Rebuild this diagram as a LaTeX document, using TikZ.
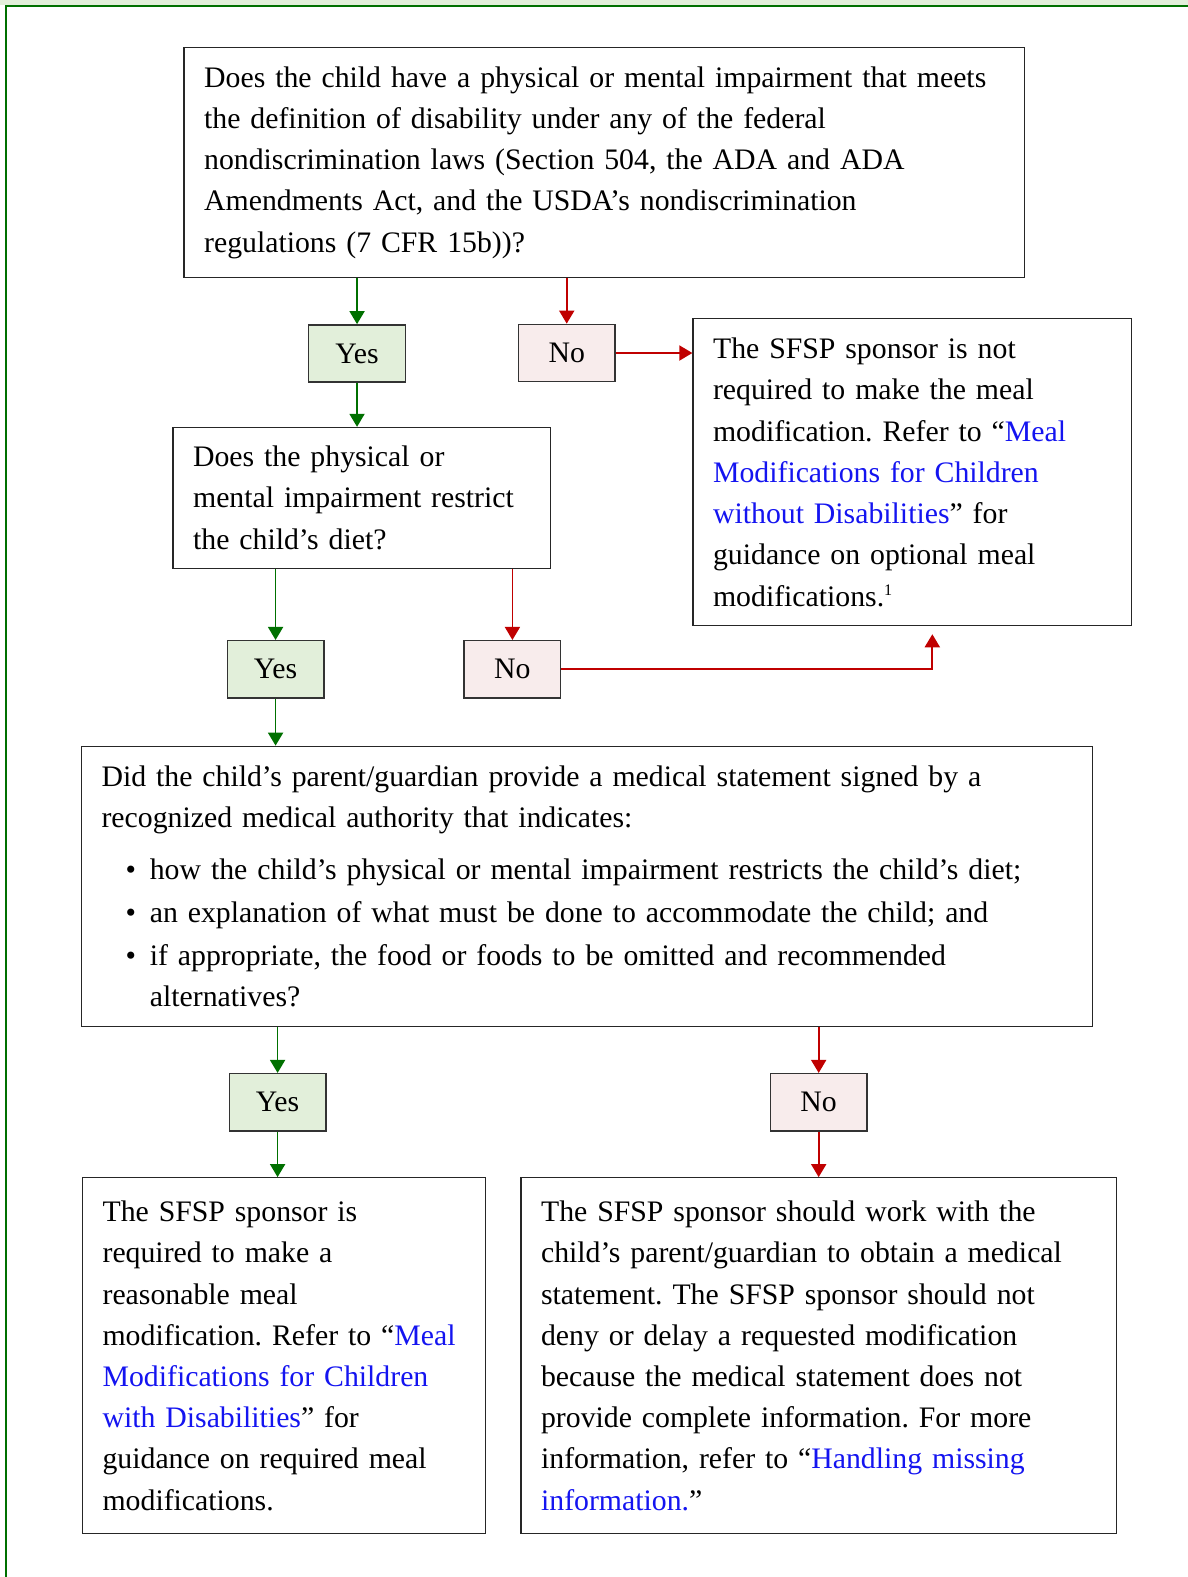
\documentclass[tikz,border=0pt]{standalone}
\usepackage{fontspec}
\setmainfont{Liberation Serif}
\usetikzlibrary{arrows.meta}
\frenchspacing

\definecolor{framegreen}{RGB}{0,112,0}
\definecolor{stripgreen}{RGB}{226,239,218}
\definecolor{yesfill}{RGB}{226,239,218}
\definecolor{nofill}{RGB}{248,236,236}
\definecolor{nored}{RGB}{192,0,0}
\definecolor{linkblue}{RGB}{20,20,240}

\newcommand{\lnk}[1]{\textcolor{linkblue}{#1}}
\newcommand{\blt}{\hspace*{12pt}\makebox[12pt][l]{\textbullet}}

\begin{document}
\begin{tikzpicture}[x=0.5pt, y=-0.5pt,
    box/.style={draw=black!85, line width=0.6pt, align=left, inner xsep=10pt, inner ysep=0pt, font=\fontsize{14.8}{20.5}\selectfont},
    yes box/.style={draw=black!80, line width=0.7pt, fill=yesfill, minimum width=48pt, minimum height=28.5pt, inner sep=0pt, font=\fontsize{14.8}{20.5}\selectfont},
    no box/.style={yes box, fill=nofill},
    yes arrow/.style={-{Triangle[width=7.5pt,length=6.5pt]}, line width=0.9pt, draw=framegreen},
    no arrow/.style={-{Triangle[width=7.5pt,length=6.5pt]}, line width=0.9pt, draw=nored}]
    \useasboundingbox (0,0) rectangle (1181,1568);
    \fill[stripgreen] (0,0) rectangle (1181,5);
    \draw[framegreen, line width=1pt] (1181,6) -- (6,6) -- (6,1568);

    \node[box, text width=398pt, minimum height=114.5pt] (q1) at (601,161.5)
        {Does the child have a physical or mental impairment that meets\\
         the definition of disability under any of the federal\\
         nondiscrimination laws (Section 504, the ADA and ADA\\
         Amendments Act, and the USDA’s nondiscrimination\\
         regulations (7 CFR 15b))?};
    \node[yes box] (yes1) at (355,351.5) {Yes};
    \node[no box] (no1) at (563.5,351) {No};
    \node[box, text width=198pt, minimum height=152.5pt] (r1) at (907,469.5)
        {The SFSP sponsor is not\\
         required to make the meal\\
         modification. Refer to “\lnk{Meal}\\
         \lnk{Modifications for Children}\\
         \lnk{without Disabilities}” for\\
         guidance on optional meal\\
         modifications.\raisebox{5pt}{\fontsize{8}{8}\selectfont 1}};
    \node[box, text width=167.5pt, minimum height=70pt] (q2) at (359.5,495)
        {Does the physical or\\
         mental impairment restrict\\
         the child’s diet?};
    \node[yes box] (yes2) at (274,665.5) {Yes};
    \node[no box] (no2) at (509.5,665.5) {No};
    \node[box, text width=482.5pt, minimum height=139.5pt] (q3) at (583.5,881.5)
        {Did the child’s parent/guardian provide a medical statement signed by a\\
         recognized medical authority that indicates:\\[5pt]
         \blt how the child’s physical or mental impairment restricts the child’s diet;\\[1pt]
         \blt an explanation of what must be done to accommodate the child; and\\[1pt]
         \blt if appropriate, the food or foods to be omitted and recommended\\
         \hspace*{24pt}alternatives?};
    \node[yes box] (yes3) at (276,1096) {Yes};
    \node[no box] (no3) at (814,1096) {No};
    \node[box, text width=180.5pt, minimum height=177pt] (r2) at (282.5,1348)
        {The SFSP sponsor is\\
         required to make a\\
         reasonable meal\\
         modification. Refer to “\lnk{Meal}\\
         \lnk{Modifications for Children}\\
         \lnk{with Disabilities}” for\\
         guidance on required meal\\
         modifications.};
    \node[box, text width=276pt, minimum height=177pt] (r3) at (814,1348)
        {The SFSP sponsor should work with the\\
         child’s parent/guardian to obtain a medical\\
         statement. The SFSP sponsor should not\\
         deny or delay a requested modification\\
         because the medical statement does not\\
         provide complete information. For more\\
         information, refer to “\lnk{Handling missing}\\
         \lnk{information.}”};

    \draw[yes arrow] (q1.south -| yes1.north) -- (yes1.north);
    \draw[no arrow] (q1.south -| no1.north) -- (no1.north);
    \draw[no arrow] (no1.east) -- (no1.east -| r1.west);
    \draw[yes arrow] (yes1.south) -- (yes1.south |- q2.north);
    \draw[yes arrow] (q2.south -| yes2.north) -- (yes2.north);
    \draw[no arrow] (q2.south -| no2.north) -- (no2.north);
    \draw[no arrow, shorten >=4pt] (no2.east) -| ([xshift=10pt]r1.south);
    \draw[yes arrow] (yes2.south) -- (yes2.south |- q3.north);
    \draw[yes arrow] (q3.south -| yes3.north) -- (yes3.north);
    \draw[no arrow] (q3.south -| no3.north) -- (no3.north);
    \draw[yes arrow] (yes3.south) -- (yes3.south |- r2.north);
    \draw[no arrow] (no3.south) -- (no3.south |- r3.north);
\end{tikzpicture}
\end{document}
